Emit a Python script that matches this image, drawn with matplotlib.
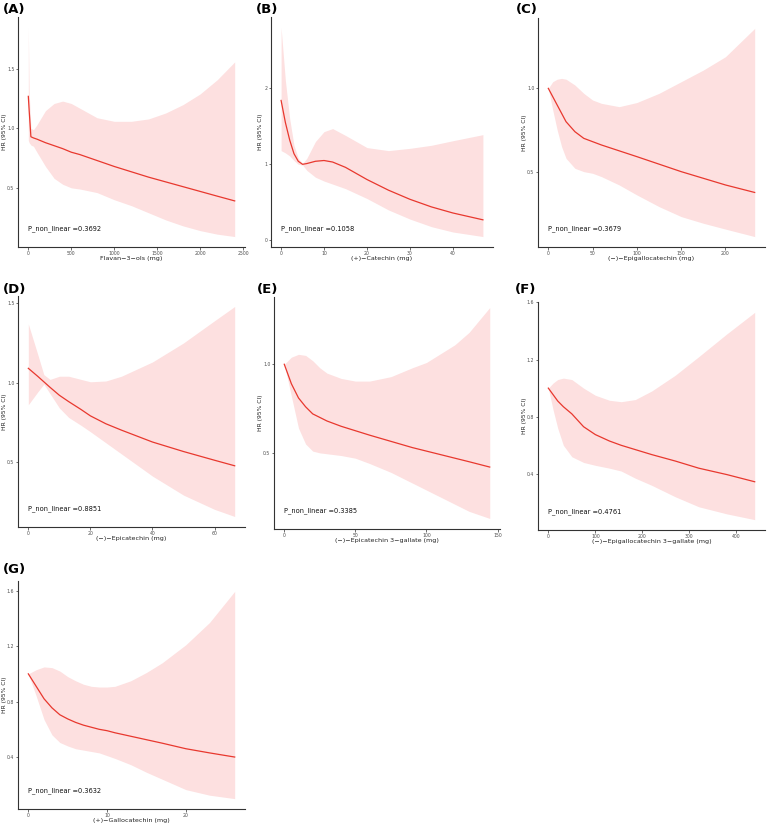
import matplotlib
matplotlib.use("Agg")
import matplotlib.pyplot as plt

# Panel A: Flavan-3-ols
xA = [0, 10, 30, 60, 100, 200, 300, 400, 500, 600, 800, 1000, 1200, 1400, 1600, 1800, 2000, 2200, 2403]
hrA = [1.27, 1.15, 0.93, 0.92, 0.91, 0.88, 0.855, 0.83, 0.80, 0.78, 0.73, 0.68, 0.635, 0.59, 0.55, 0.51, 0.47, 0.43, 0.39]
upA = [1.85, 1.30, 1.00, 0.99, 1.03, 1.15, 1.21, 1.23, 1.21, 1.17, 1.09, 1.06, 1.06, 1.08, 1.13, 1.20, 1.29, 1.41, 1.56]
loA = [0.90, 0.88, 0.86, 0.85, 0.80, 0.68, 0.58, 0.53, 0.50, 0.49, 0.46, 0.40, 0.35, 0.29, 0.23, 0.18, 0.14, 0.11, 0.09]

# Panel B: (+)-Catechin
xB = [0, 1, 2, 3, 4, 5, 6, 8, 10, 12, 15, 20, 25, 30, 35, 40, 47]
hrB = [1.84, 1.55, 1.32, 1.14, 1.04, 1.0, 1.01, 1.04, 1.05, 1.03, 0.96, 0.80, 0.66, 0.54, 0.44, 0.36, 0.27]
upB = [2.8, 2.1, 1.6, 1.25, 1.08, 1.01, 1.08, 1.3, 1.43, 1.47, 1.38, 1.22, 1.18, 1.21, 1.25, 1.31, 1.39]
loB = [1.18, 1.15, 1.11, 1.05, 1.0, 0.99, 0.92, 0.83, 0.78, 0.74, 0.68, 0.55, 0.40, 0.28, 0.18, 0.11, 0.05]

# Panel C: (-)-Epigallocatechin
xC = [0, 5, 10, 15, 20, 30, 40, 50, 60, 80, 100, 125, 150, 175, 200, 233]
hrC = [1.0, 0.95, 0.90, 0.85, 0.80, 0.74, 0.70, 0.68, 0.66, 0.625, 0.59, 0.545, 0.50, 0.46, 0.42, 0.375]
upC = [1.0, 1.04, 1.055, 1.06, 1.055, 1.02, 0.97, 0.93, 0.91, 0.89, 0.915, 0.97, 1.04, 1.11, 1.19, 1.36]
loC = [1.0, 0.87, 0.75, 0.65, 0.58, 0.52, 0.50, 0.49, 0.47, 0.42, 0.36, 0.29, 0.23, 0.19, 0.155, 0.11]

# Panel D: (-)-Epicatechin
xD = [0, 3, 5, 7, 10, 13, 17, 20, 25, 30, 40, 50, 60, 66.5]
hrD = [1.09, 1.04, 1.005, 0.97, 0.92, 0.88, 0.83, 0.79, 0.74, 0.70, 0.625, 0.565, 0.51, 0.475]
upD = [1.37, 1.18, 1.05, 1.02, 1.04, 1.04, 1.02, 1.005, 1.01, 1.04, 1.13, 1.25, 1.39, 1.48]
loD = [0.86, 0.94, 0.99, 0.93, 0.84, 0.78, 0.73, 0.69, 0.62, 0.55, 0.41, 0.29, 0.20, 0.155]

# Panel E: (-)-Epicatechin 3-gallate
xE = [0, 5, 10, 15, 20, 25, 30, 40, 50, 60, 75, 90, 100, 110, 120, 130, 144.5]
hrE = [1.0, 0.89, 0.81, 0.76, 0.72, 0.70, 0.68, 0.65, 0.625, 0.60, 0.565, 0.53, 0.51, 0.49, 0.47, 0.45, 0.42]
upE = [1.0, 1.04, 1.056, 1.05, 1.02, 0.98, 0.95, 0.92, 0.905, 0.905, 0.93, 0.98, 1.01, 1.06, 1.11, 1.18, 1.32]
loE = [1.0, 0.82, 0.64, 0.55, 0.51, 0.50, 0.495, 0.485, 0.47, 0.44, 0.39, 0.33, 0.29, 0.25, 0.21, 0.17, 0.13]

# Panel F: (-)-Epigallocatechin 3-gallate
xF = [0, 10, 20, 32, 50, 75, 100, 130, 155, 185, 220, 270, 320, 380, 439]
hrF = [1.0, 0.955, 0.91, 0.87, 0.82, 0.73, 0.675, 0.63, 0.60, 0.57, 0.535, 0.49, 0.44, 0.395, 0.345]
upF = [1.0, 1.035, 1.06, 1.07, 1.06, 1.0, 0.95, 0.915, 0.905, 0.92, 0.98, 1.09, 1.22, 1.38, 1.53]
loF = [1.0, 0.85, 0.72, 0.60, 0.52, 0.48, 0.46, 0.44, 0.42, 0.37, 0.32, 0.24, 0.17, 0.12, 0.08]

# Panel G: (+)-Gallocatechin
xG = [0, 1, 2, 3, 4, 5, 6, 7, 8, 9, 10, 11, 13, 15, 17, 20, 23, 26.2]
hrG = [1.0, 0.91, 0.82, 0.755, 0.705, 0.675, 0.65, 0.63, 0.615, 0.60, 0.59, 0.575, 0.55, 0.525, 0.50, 0.46, 0.43, 0.40]
upG = [1.0, 1.03, 1.05, 1.045, 1.02, 0.98, 0.95, 0.925, 0.91, 0.905, 0.905, 0.91, 0.95, 1.01, 1.08, 1.21, 1.37, 1.595]
loG = [1.0, 0.84, 0.67, 0.56, 0.505, 0.48, 0.46, 0.45, 0.44, 0.43, 0.41, 0.39, 0.345, 0.29, 0.24, 0.165, 0.125, 0.10]

letters = ["(A)", "(B)", "(C)", "(D)", "(E)", "(F)", "(G)"]
xlabels = ["Flavan\u22123\u2212ols (mg)", "(+)\u2212Catechin (mg)", "(\u2212)\u2212Epigallocatechin (mg)",
           "(\u2212)\u2212Epicatechin (mg)", "(\u2212)\u2212Epicatechin 3\u2212gallate (mg)",
           "(\u2212)\u2212Epigallocatechin 3\u2212gallate (mg)", "(+)\u2212Gallocatechin (mg)"]
pvals = ["0.3692", "0.1058", "0.3679", "0.8851", "0.3385", "0.4761", "0.3632"]
xticks = [[0, 500, 1000, 1500, 2000, 2500], [0, 10, 20, 30, 40], [0, 50, 100, 150, 200],
          [0, 20, 40, 60], [0, 50, 100, 150], [0, 100, 200, 300, 400], [0, 10, 20]]
yticks = [[0.5, 1.0, 1.5], [0, 1, 2], [0.5, 1.0], [0.5, 1.0, 1.5], [0.5, 1.0],
          [0.4, 0.8, 1.2, 1.6], [0.4, 0.8, 1.2, 1.6]]
ytlabels = [["0.5", "1.0", "1.5"], ["0", "1", "2"], ["0.5", "1.0"], ["0.5", "1.0", "1.5"],
            ["0.5", "1.0"], ["0.4", "0.8", "1.2", "1.6"], ["0.4", "0.8", "1.2", "1.6"]]

series = [(xA, hrA, upA, loA), (xB, hrB, upB, loB), (xC, hrC, upC, loC), (xD, hrD, upD, loD),
          (xE, hrE, upE, loE), (xF, hrF, upF, loF), (xG, hrG, upG, loG)]

W, H = 767, 825
# axes boxes in pixels: left, right, top, bottom
boxes = [(18, 245, 17, 247), (271, 493, 17, 247), (538, 765, 18, 247),
         (18, 245, 296, 527), (274, 500, 297, 529), (538, 765, 302, 530),
         (18, 245, 581, 809)]
ylab_right = [7, 263, 527, 7, 263, 527, 7]
letter_pos = [(3, 9), (256, 9), (516, 9), (3, 290), (257, 290), (515, 290), (3, 570)]

fig = plt.figure(figsize=(W / 100, H / 100), dpi=100)
fig.patch.set_facecolor("white")

for i, (x, hr, up, lo) in enumerate(series):
    l, r, t, b = boxes[i]
    ax = fig.add_axes([l / W, 1 - b / H, (r - l) / W, (b - t) / H])
    ax.fill_between(x, lo, up, color="#fde0e0", linewidth=0)
    ax.plot(x, hr, color="#e8382e", linewidth=0.9)
    ax.set_xticks(xticks[i])
    ax.set_xticklabels([str(v) for v in xticks[i]])
    ax.set_yticks(yticks[i])
    ax.set_yticklabels(ytlabels[i])
    for s in ["top", "right"]:
        ax.spines[s].set_visible(False)
    for s in ["left", "bottom"]:
        ax.spines[s].set_color("#333333")
        ax.spines[s].set_linewidth(0.8)
    ax.tick_params(length=1.8, width=0.5, color="#333333", labelsize=3.3,
                   labelcolor="#4d4d4d", pad=0.8)
    ax.set_xlabel(xlabels[i], fontsize=4.6, labelpad=0.5, color="#222222")
    ax.set_ylabel("HR (95% CI)", fontsize=4.3, color="#222222")
    ax.yaxis.set_label_coords((ylab_right[i] - l) / (r - l), 0.5)
    ax.text(0, 0.08, "P_non_linear =" + pvals[i], transform=ax.get_xaxis_transform(),
            fontsize=4.8, color="#111111", ha="left", va="center")
    lx, ly = letter_pos[i]
    fig.text(lx / W, 1 - ly / H, letters[i], fontsize=9.5, fontweight="bold",
             ha="left", va="center")

fig.savefig("out.png", dpi=100)
